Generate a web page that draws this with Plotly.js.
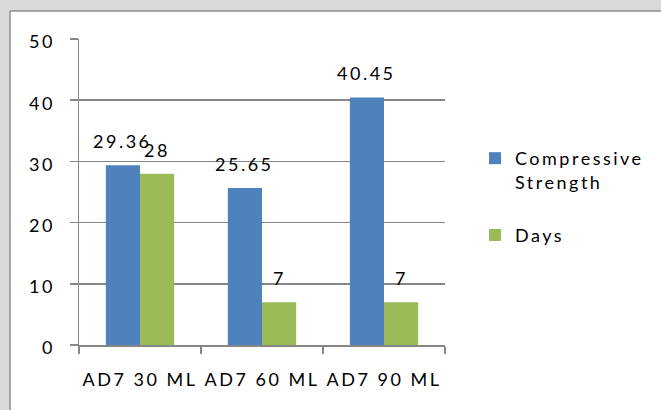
<!DOCTYPE html>
<html>
<head>
<meta charset="utf-8">
<script src="https://cdn.plot.ly/plotly-3.0.1.min.js"></script>
<style>
  html, body { margin: 0; padding: 0; background: #ffffff; overflow: hidden; width: 661px; height: 410px; }
  #chart { position: fixed; left: 0; top: 0; width: 661px; height: 410px; }
  svg text { letter-spacing: 2.5px; }
</style>
</head>
<body>
<div id="chart"></div>
<script>
var categories = ['AD7 30 ML', 'AD7 60 ML', 'AD7 90 ML'];
var strengthValues = [29.36, 25.65, 40.45];
var daysValues = [28, 7, 7];
var seriesNames = ['Compressive<br>Strength', 'Days'];
var yTicks = [0, 10, 20, 30, 40, 50];

var FONT = 'Lato, "Open Sans", sans-serif';
var BLUE = '#4f81bd';
var GREEN = '#9bbb59';
var GRID = '#868686';
var OUTER = '#d9d9d9';

var traces = [
  {
    type: 'bar', name: seriesNames[0], x: categories, y: strengthValues,
    marker: { color: BLUE }, legendgroup: 'a', hoverinfo: 'none'
  },
  {
    type: 'bar', name: seriesNames[1], x: categories, y: daysValues,
    marker: { color: GREEN }, legendgroup: 'b', hoverinfo: 'none'
  }
];

// data labels above bars (offset to each bar of the group)
var plotW = 661 - 79 - 216;
var plotH = 410 - 39 - 65;
var bargap = 0.44;
var barW = (plotW / categories.length) * (1 - bargap) / 2;
var annotations = [];
function addLabels(vals, shift) {
  for (var i = 0; i < categories.length; i++) {
    annotations.push({
      x: categories[i], y: vals[i], xref: 'x', yref: 'y',
      text: String(vals[i]), showarrow: false,
      xanchor: 'center', yanchor: 'bottom',
      xshift: shift, yshift: 11,
      font: { family: FONT, size: 18, color: '#000' }
    });
  }
}
addLabels(strengthValues, -barW / 2);
addLabels(daysValues, barW / 2);

function px2x(px) { return (px - 79) / plotW; }
function py2y(py) { return (345 - py) / plotH; }

var layout = {
  width: 661, height: 410,
  margin: { l: 79, r: 216, t: 39, b: 65, pad: 0, autoexpand: false },
  paper_bgcolor: '#ffffff',
  plot_bgcolor: 'rgba(0,0,0,0)',
  font: { family: FONT, size: 18, color: '#000' },
  barmode: 'group', bargap: bargap, bargroupgap: 0,
  showlegend: true,
  legend: {
    x: 1.082, xanchor: 'left', y: 0.67, yanchor: 'top',
    valign: 'top', traceorder: 'grouped', tracegroupgap: 27,
    bgcolor: 'rgba(0,0,0,0)', borderwidth: 0,
    font: { family: FONT, size: 18, color: '#000' }
  },
  xaxis: {
    type: 'category', showgrid: false, zeroline: false,
    showline: true, linecolor: GRID, linewidth: 1.5,
    ticks: 'outside', tickson: 'boundaries', ticklen: 7, tickcolor: GRID, tickwidth: 1.5,
    tickangle: 0, automargin: false,
    ticklabelstandoff: 18,
    tickfont: { family: FONT, size: 18, color: '#000' },
    fixedrange: true
  },
  yaxis: {
    range: [0, 50], tickvals: yTicks, ticktext: yTicks.map(String),
    showgrid: true, gridcolor: GRID, gridwidth: 1.5,
    zeroline: false, showline: true, linecolor: GRID, linewidth: 1.5,
    ticks: 'outside', ticklen: 8, tickcolor: GRID, tickwidth: 1.5,
    ticklabelstandoff: 11, ticklabelshift: 3, automargin: false,
    tickfont: { family: FONT, size: 18, color: '#000' },
    fixedrange: true
  },
  annotations: annotations,
  shapes: [
    // grey surround (top strip and left strip)
    { type: 'rect', xref: 'paper', yref: 'paper', layer: 'below',
      x0: px2x(0), x1: px2x(661), y0: py2y(11), y1: py2y(0),
      fillcolor: OUTER, line: { width: 0 } },
    { type: 'rect', xref: 'paper', yref: 'paper', layer: 'below',
      x0: px2x(0), x1: px2x(10), y0: py2y(410), y1: py2y(0),
      fillcolor: OUTER, line: { width: 0 } },
    // chart frame border
    { type: 'line', xref: 'paper', yref: 'paper', layer: 'below',
      x0: px2x(10), x1: px2x(661), y0: py2y(11), y1: py2y(11),
      line: { color: '#8c8c8c', width: 1.5 } },
    { type: 'line', xref: 'paper', yref: 'paper', layer: 'below',
      x0: px2x(10), x1: px2x(10), y0: py2y(11), y1: py2y(410),
      line: { color: '#8c8c8c', width: 1.5 } }
  ]
};

Plotly.newPlot('chart', traces, layout, { staticPlot: true, displayModeBar: false });
</script>
</body>
</html>
